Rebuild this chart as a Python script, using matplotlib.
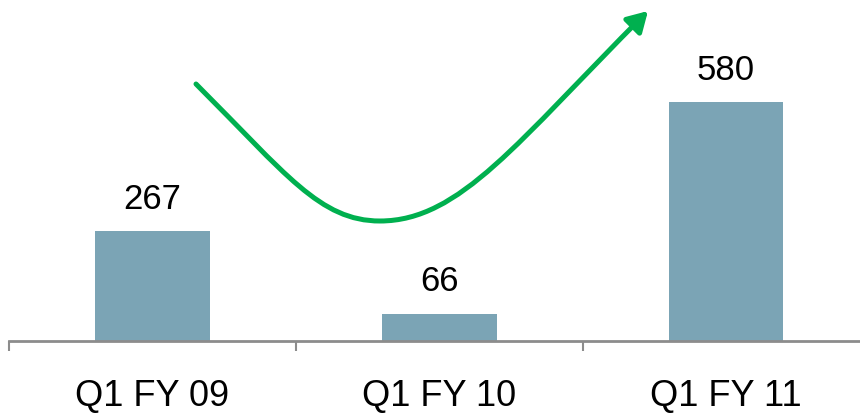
import matplotlib
matplotlib.use("Agg")
import matplotlib.pyplot as plt
from matplotlib.path import Path
from matplotlib.patches import FancyArrowPatch

plt.rcParams['font.family'] = ['Liberation Sans', 'DejaVu Sans']

# dados
categorias = ["Q1 FY 09", "Q1 FY 10", "Q1 FY 11"]
valores = [267, 66, 580]

cor_barra = "#7BA4B5"
cor_seta = "#00B04F"
cor_eixo = "#8C8C8C"

fig = plt.figure(figsize=(8.6, 4.14), dpi=100)
ax = fig.add_axes([9 / 860, 72 / 414, 860.5 / 860, 342 / 414])

x = list(range(len(categorias)))
bars = ax.bar(x, valores, width=0.40, color=cor_barra, zorder=2)

# rótulos de valor
for bar, v in zip(bars, valores):
    ax.text(bar.get_x() + bar.get_width() / 2, bar.get_height() + 40, str(v),
            ha='center', va='bottom', fontsize=25, color='black')

ax.set_xlim(-0.5, 2.5)
ax.set_ylim(0, 830)

for s in ['top', 'right', 'left']:
    ax.spines[s].set_visible(False)
ax.spines['bottom'].set_color(cor_eixo)
ax.spines['bottom'].set_linewidth(2)
ax.set_yticks([])

ax.set_xticks(x)
ax.set_xticklabels(categorias, fontsize=26)
ax.tick_params(axis='x', which='major', length=0, pad=27)
ax.set_xticks([i - 0.5 for i in range(len(categorias) + 1)], minor=True)
ax.tick_params(axis='x', which='minor', length=7.5, width=1.5, color=cor_eixo, direction='out')

# seta de tendência (coordenadas da figura, em pixels da imagem)
def fig_pt(px, py):
    return (px / 860, (414 - py) / 414)

verts = [fig_pt(196, 85), fig_pt(286, 175), fig_pt(320, 222), fig_pt(380, 222),
         fig_pt(460, 222), fig_pt(518, 142), fig_pt(648, 12)]
codes = [Path.MOVETO] + [Path.CURVE4] * 6
seta = FancyArrowPatch(path=Path(verts, codes), transform=fig.transFigure,
                       arrowstyle="-|>,head_length=12,head_width=7",
                       color=cor_seta, linewidth=3.6, mutation_scale=1,
                       shrinkA=0, shrinkB=0)
fig.patches.append(seta)

fig.savefig("out.png", dpi=100)
